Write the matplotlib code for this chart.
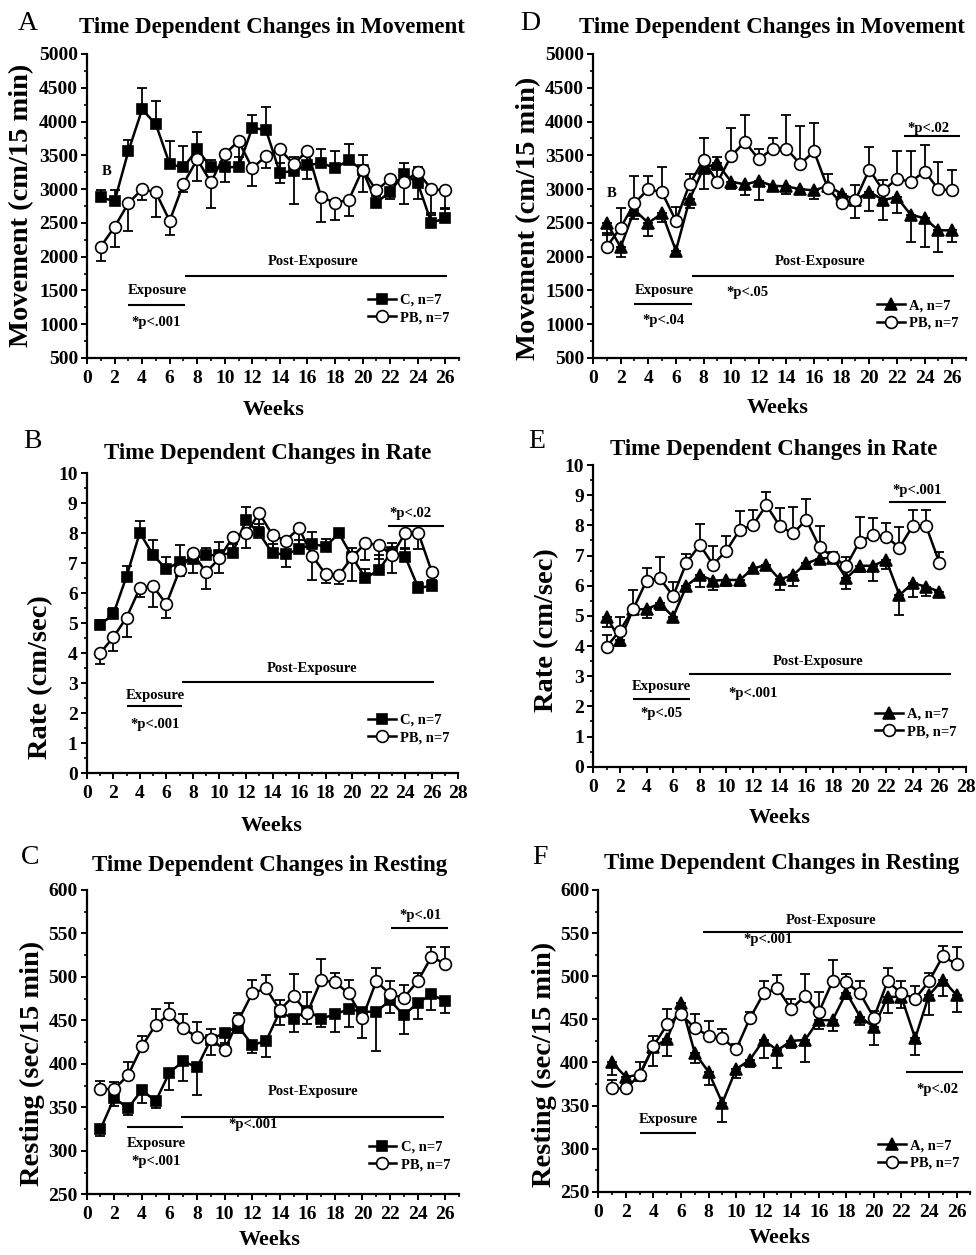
import numpy as np
import matplotlib
matplotlib.use('Agg')
import matplotlib.pyplot as plt
from matplotlib.ticker import MultipleLocator

plt.rcParams['font.family'] = ['Liberation Serif', 'DejaVu Serif']
plt.rcParams['font.weight'] = 'bold'

weeks = np.arange(1, 27)

# Movement (cm/15 min) -- C vs PB
move_c = [2880, 2820, 3560, 4180, 3960, 3370, 3320, 3590, 3320, 3320, 3330, 3910, 3870,
          3240, 3270, 3350, 3390, 3310, 3430, 3280, 2800, 2960, 3230, 3090, 2500, 2570]
move_c_sem = [110, 170, 170, 320, 340, 340, 320, 250, 110, 140, 150, 190, 340,
              150, 200, 150, 200, 260, 240, 220, 100, 150, 150, 240, 120, 150]
move_pb_a = [2150, 2440, 2790, 3000, 2950, 2530, 3080, 3440, 3100, 3520, 3710, 3310, 3490,
             3590, 3370, 3570, 2880, 2800, 2840, 3290, 2980, 3150, 3110, 3250, 3000, 2980]
move_pb_a_sem = [210, 290, 410, 160, 360, 210, 130, 320, 380, 420, 400, 260, 180,
                 500, 590, 420, 360, 260, 240, 340, 150, 300, 330, 390, 360, 280]

# Movement (cm/15 min) -- A vs PB
move_a = [2500, 2140, 2690, 2500, 2640, 2090, 2850, 3310, 3380, 3110, 3070, 3120, 3050,
          3040, 3000, 2980, 3050, 2930, 2840, 2960, 2840, 2880, 2620, 2570, 2390, 2390]
move_a_sem = [180, 140, 130, 200, 120, 80, 130, 310, 100, 110, 160, 280, 40,
              110, 70, 120, 60, 100, 270, 280, 300, 240, 400, 420, 320, 170]
move_pb_d = [2150, 2430, 2790, 3000, 2950, 2530, 3080, 3430, 3100, 3490, 3700, 3440, 3600,
             3600, 3370, 3560, 3010, 2790, 2840, 3290, 2980, 3150, 3110, 3260, 3000, 2980]
move_pb_d_sem = [200, 290, 410, 190, 370, 210, 150, 330, 380, 420, 400, 150, 150,
                 500, 570, 420, 220, 80, 220, 340, 150, 410, 450, 390, 400, 310]

# Rate (cm/sec) -- C vs PB
rate_c = [4.95, 5.30, 6.56, 8.02, 7.28, 6.80, 7.05, 7.15, 7.27, 7.27, 7.35, 8.44, 8.00,
          7.33, 7.30, 7.47, 7.64, 7.56, 8.00, 7.22, 6.50, 6.78, 7.39, 7.22, 6.17, 6.26]
rate_c_sem = [0.15, 0.20, 0.35, 0.40, 0.50, 0.40, 0.55, 0.30, 0.25, 0.45, 0.30, 0.45, 0.30,
              0.30, 0.30, 0.30, 0.40, 0.25, 0.15, 0.30, 0.30, 0.50, 0.30, 0.30, 0.20, 0.20]
rate_pb_b = [4.00, 4.53, 5.19, 6.17, 6.24, 5.64, 6.78, 7.33, 6.70, 7.17, 7.87, 8.00, 8.67,
             7.94, 7.76, 8.17, 7.24, 6.64, 6.61, 7.20, 7.67, 7.61, 7.28, 8.00, 8.00, 6.72]
rate_pb_b_sem = [0.35, 0.45, 0.65, 0.30, 0.70, 0.45, 0.20, 0.65, 0.55, 0.50, 0.64, 0.50, 0.45,
                 0.60, 0.87, 0.70, 0.80, 0.30, 0.30, 0.80, 0.55, 0.45, 0.60, 0.52, 0.52, 0.30]

# Rate (cm/sec) -- A vs PB
rate_a = [4.97, 4.20, 5.22, 5.22, 5.41, 4.97, 5.99, 6.35, 6.17, 6.19, 6.19, 6.57, 6.69,
          6.21, 6.35, 6.74, 6.90, 6.93, 6.24, 6.66, 6.66, 6.85, 5.69, 6.08, 5.97, 5.80]
rate_a_sem = [0.35, 0.20, 0.10, 0.30, 0.20, 0.15, 0.10, 0.40, 0.30, 0.20, 0.20, 0.10, 0.10,
              0.35, 0.35, 0.20, 0.15, 0.15, 0.35, 0.20, 0.50, 0.30, 0.65, 0.45, 0.30, 0.15]
rate_pb_e = [3.98, 4.51, 5.22, 6.17, 6.24, 5.66, 6.76, 7.35, 6.70, 7.16, 7.85, 8.01, 8.67,
             7.98, 7.73, 8.18, 7.27, 6.96, 6.65, 7.46, 7.68, 7.62, 7.26, 7.98, 7.98, 6.76]
rate_pb_e_sem = [0.38, 0.45, 0.65, 0.40, 0.70, 0.45, 0.30, 0.70, 0.60, 0.50, 0.64, 0.50, 0.45,
                 0.60, 0.87, 0.70, 0.70, 0.15, 0.30, 0.80, 0.55, 0.45, 0.67, 0.52, 0.52, 0.37]

# Resting (sec/15 min) -- C vs PB
rest_c = [325, 361, 349, 370, 357, 390, 403, 396, 428, 436, 443, 422, 426,
          460, 452, 461, 452, 457, 463, 460, 460, 473, 456, 470, 480, 472]
rest_c_sem = [8, 10, 8, 15, 8, 20, 23, 32, 18, 12, 8, 10, 18,
              15, 15, 15, 10, 20, 20, 30, 45, 15, 22, 18, 18, 14]
rest_pb_c = [371, 371, 387, 420, 445, 457, 441, 431, 429, 416, 450, 481, 487,
             462, 478, 459, 496, 494, 481, 453, 495, 480, 476, 495, 523, 515]
rest_pb_c_sem = [9, 8, 15, 12, 18, 13, 16, 17, 11, 6, 8, 15, 15,
                 12, 25, 24, 25, 10, 15, 8, 15, 15, 15, 10, 12, 20]

# Resting (sec/15 min) -- A vs PB
rest_a = [400, 383, 386, 418, 427, 469, 411, 389, 353, 392, 403, 426, 414,
          425, 426, 449, 449, 481, 453, 441, 476, 476, 428, 478, 496, 478]
rest_a_sem = [15, 10, 8, 22, 20, 5, 12, 15, 22, 10, 8, 21, 20,
              8, 25, 10, 13, 8, 10, 21, 19, 13, 19, 23, 19, 19]
rest_pb_f = [370, 370, 385, 419, 444, 456, 440, 431, 428, 415, 451, 480, 486,
             462, 477, 458, 494, 493, 480, 452, 494, 480, 474, 494, 523, 514]
rest_pb_f_sem = [10, 8, 15, 12, 18, 13, 16, 17, 11, 6, 8, 15, 15,
                 12, 25, 24, 25, 10, 15, 8, 15, 15, 15, 10, 12, 20]

FIG_W, FIG_H = 976, 1255
NOTE_SIZE = 10.5


def px_box(left, top, right, bottom):
    return [left / FIG_W, 1 - bottom / FIG_H, (right - left) / FIG_W, (bottom - top) / FIG_H]


def fig_text(fig, x, y, text, **kw):
    fig.text(x / FIG_W, 1 - y / FIG_H, text, ha='center', va='center', **kw)


def setup_axes(fig, box, xmax, ylim, ystep):
    sub_plt = fig.add_axes(box)
    sub_plt.set_xlim(0, xmax)
    sub_plt.set_ylim(*ylim)
    sub_plt.xaxis.set_major_locator(MultipleLocator(2))
    sub_plt.xaxis.set_minor_locator(MultipleLocator(1))
    sub_plt.yaxis.set_major_locator(MultipleLocator(ystep))
    sub_plt.yaxis.set_minor_locator(MultipleLocator(ystep / 2))
    sub_plt.spines["top"].set_visible(False)
    sub_plt.spines["right"].set_visible(False)
    sub_plt.spines["left"].set_linewidth(1.6)
    sub_plt.spines["bottom"].set_linewidth(1.6)
    sub_plt.tick_params(which='major', length=4, width=1.4, labelsize=14)
    sub_plt.tick_params(which='minor', length=2.5, width=1.2)
    sub_plt.tick_params(axis='y', which='major', pad=2.5)
    sub_plt.tick_params(axis='x', which='major', pad=4.5)
    return sub_plt


def draw_series(sub_plt, mean, sem, direction, marker, face, label, size):
    sem = np.asarray(sem, dtype=float)
    zero = np.zeros_like(sem)
    yerr = [sem, zero] if direction < 0 else [zero, sem]
    sub_plt.errorbar(weeks, mean, yerr=yerr, fmt='none', ecolor='black',
                     elinewidth=1.3, capsize=3.5, capthick=1.3, zorder=2)
    sub_plt.plot(weeks, mean, color='black', lw=1.8, marker=marker, ms=size,
                 mfc=face, mec='black', mew=1.2, label=label, zorder=3)


def note(sub_plt, text, x, y):
    sub_plt.text(x, y, text, ha='center', va='center', fontsize=NOTE_SIZE, fontweight='bold')


def span(sub_plt, x0, x1, y):
    sub_plt.plot([x0, x1], [y, y], color='black', lw=1.5, solid_capstyle='butt')


def legend(sub_plt, anchor):
    sub_plt.legend(loc='center left', bbox_to_anchor=anchor, frameon=False,
                   prop={'size': NOTE_SIZE, 'weight': 'bold'}, handlelength=1.9,
                   handletextpad=0.3, labelspacing=0.3, borderpad=0, borderaxespad=0)


fig = plt.figure(figsize=(FIG_W / 100, FIG_H / 100), dpi=100)

# ---- A: movement, C vs PB
ax = setup_axes(fig, px_box(87, 54, 459, 358), 27, (500, 5000), 500)
draw_series(ax, move_c, move_c_sem, +1, 's', 'black', 'C, n=7', 7.5)
draw_series(ax, move_pb_a, move_pb_a_sem, -1, 'o', 'white', 'PB, n=7', 8.5)
note(ax, 'B', 1.45, 3260)
note(ax, 'Exposure', 5.1, 1500)
span(ax, 3.0, 7.1, 1290)
note(ax, '*p<.001', 5.0, 1030)
span(ax, 7.1, 26.1, 1710)
note(ax, 'Post-Exposure', 16.4, 1925)
legend(ax, (0.756, 0.161))
fig_text(fig, 28, 24, 'A', fontsize=20, fontweight='normal')
fig_text(fig, 272, 28, 'Time Dependent Changes in Movement', fontsize=16.5, fontweight='bold')
fig_text(fig, 22, 205, 'Movement (cm/15 min)', fontsize=20.5, fontweight='bold', rotation=90)
fig_text(fig, 274, 410, 'Weeks', fontsize=16, fontweight='bold')

# ---- D: movement, A vs PB
ax = setup_axes(fig, px_box(593, 54, 966, 358), 27, (500, 5000), 500)
draw_series(ax, move_a, move_a_sem, -1, '^', 'black', 'A, n=7', 8.5)
draw_series(ax, move_pb_d, move_pb_d_sem, +1, 'o', 'white', 'PB, n=7', 8.5)
note(ax, 'B', 1.36, 2940)
note(ax, 'Exposure', 5.15, 1500)
span(ax, 3.0, 7.2, 1300)
note(ax, '*p<.04', 5.07, 1049)
span(ax, 7.2, 26.1, 1710)
note(ax, 'Post-Exposure', 16.4, 1925)
note(ax, '*p<.05', 11.2, 1464)
note(ax, '*p<.02', 24.3, 3900)
span(ax, 22.5, 26.6, 3780)
legend(ax, (0.762, 0.144))
fig_text(fig, 530, 23, 'D', fontsize=20, fontweight='normal')
fig_text(fig, 772, 28, 'Time Dependent Changes in Movement', fontsize=16.5, fontweight='bold')
fig_text(fig, 529, 218, 'Movement (cm/15 min)', fontsize=20.5, fontweight='bold', rotation=90)
fig_text(fig, 778, 408, 'Weeks', fontsize=16, fontweight='bold')

# ---- B: rate, C vs PB
ax = setup_axes(fig, px_box(86.7, 473.3, 458.3, 773.3), 28, (0, 10), 1)
draw_series(ax, rate_c, rate_c_sem, +1, 's', 'black', 'C, n=7', 7.5)
draw_series(ax, rate_pb_b, rate_pb_b_sem, -1, 'o', 'white', 'PB, n=7', 8.5)
note(ax, 'Exposure', 5.15, 2.58)
span(ax, 3.0, 7.2, 2.24)
note(ax, '*p<.001', 5.15, 1.64)
span(ax, 7.2, 26.2, 3.06)
note(ax, 'Post-Exposure', 16.95, 3.5)
note(ax, '*p<.02', 24.4, 8.67)
span(ax, 22.7, 26.9, 8.24)
legend(ax, (0.758, 0.1475))
fig_text(fig, 32, 442, 'B', fontsize=20, fontweight='normal')
fig_text(fig, 268, 453, 'Time Dependent Changes in Rate', fontsize=16.5, fontweight='bold')
fig_text(fig, 41, 677, 'Rate (cm/sec)', fontsize=20.5, fontweight='bold', rotation=90)
fig_text(fig, 272, 826, 'Weeks', fontsize=16, fontweight='bold')

# ---- E: rate, A vs PB
ax = setup_axes(fig, px_box(593.3, 465, 966, 766.7), 28, (0, 10), 1)
draw_series(ax, rate_a, rate_a_sem, -1, '^', 'black', 'A, n=7', 8.5)
draw_series(ax, rate_pb_e, rate_pb_e_sem, +1, 'o', 'white', 'PB, n=7', 8.5)
note(ax, 'Exposure', 5.13, 2.65)
span(ax, 2.98, 7.25, 2.23)
note(ax, '*p<.05', 5.1, 1.75)
span(ax, 7.2, 26.9, 3.07)
note(ax, 'Post-Exposure', 16.9, 3.48)
note(ax, '*p<.001', 12.0, 2.43)
note(ax, '*p<.001', 24.3, 9.17)
span(ax, 22.2, 26.5, 8.78)
legend(ax, (0.756, 0.1455))
fig_text(fig, 537, 442, 'E', fontsize=20, fontweight='normal')
fig_text(fig, 774, 450, 'Time Dependent Changes in Rate', fontsize=16.5, fontweight='bold')
fig_text(fig, 547, 630, 'Rate (cm/sec)', fontsize=20.5, fontweight='bold', rotation=90)
fig_text(fig, 780, 818, 'Weeks', fontsize=16, fontweight='bold')

# ---- C: resting, C vs PB
ax = setup_axes(fig, px_box(86.7, 890, 459, 1194.3), 27, (250, 600), 50)
draw_series(ax, rest_c, rest_c_sem, -1, 's', 'black', 'C, n=7', 7.5)
draw_series(ax, rest_pb_c, rest_pb_c_sem, +1, 'o', 'white', 'PB, n=7', 8.5)
note(ax, 'Exposure', 5.08, 308.7)
span(ax, 2.9, 7.0, 327)
note(ax, '*p<.001', 5.0, 287.6)
span(ax, 6.85, 25.9, 339.3)
note(ax, 'Post-Exposure', 16.45, 368)
note(ax, '*p<.001', 12.1, 329.8)
note(ax, '*p<.01', 24.2, 571)
span(ax, 22.1, 26.2, 556)
legend(ax, (0.757, 0.126))
fig_text(fig, 30, 857, 'C', fontsize=20, fontweight='normal')
fig_text(fig, 270, 865, 'Time Dependent Changes in Resting', fontsize=16.5, fontweight='bold')
fig_text(fig, 32, 1063, 'Resting (sec/15 min)', fontsize=20.5, fontweight='bold', rotation=90)
fig_text(fig, 270, 1240, 'Weeks', fontsize=16, fontweight='bold')

# ---- F: resting, A vs PB
ax = setup_axes(fig, px_box(598.3, 890, 970.3, 1191.7), 27, (250, 600), 50)
draw_series(ax, rest_a, rest_a_sem, -1, '^', 'black', 'A, n=7', 8.5)
draw_series(ax, rest_pb_f, rest_pb_f_sem, +1, 'o', 'white', 'PB, n=7', 8.5)
note(ax, 'Exposure', 5.1, 333.9)
span(ax, 3.0, 7.1, 318.4)
span(ax, 7.6, 26.5, 550.9)
note(ax, 'Post-Exposure', 16.9, 565)
note(ax, '*p<.001', 12.35, 542)
note(ax, '*p<.02', 24.6, 368.7)
span(ax, 22.3, 26.5, 388.4)
legend(ax, (0.753, 0.123))
fig_text(fig, 540, 858, 'F', fontsize=20, fontweight='normal')
fig_text(fig, 782, 863, 'Time Dependent Changes in Resting', fontsize=16.5, fontweight='bold')
fig_text(fig, 544, 1064, 'Resting (sec/15 min)', fontsize=20.5, fontweight='bold', rotation=90)
fig_text(fig, 780, 1238, 'Weeks', fontsize=16, fontweight='bold')

fig.savefig('out.png', dpi=100)
